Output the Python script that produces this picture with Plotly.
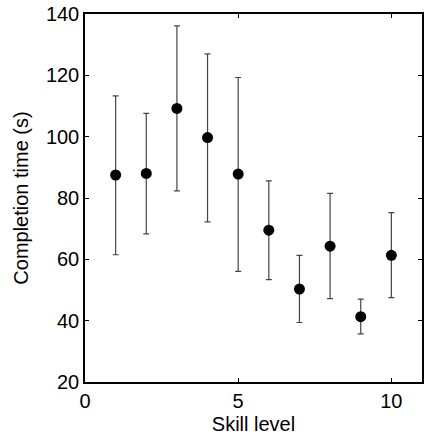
import plotly.graph_objects as go

skill = [1, 2, 3, 4, 5, 6, 7, 8, 9, 10]
mean_time = [87.5, 88.0, 109.2, 99.7, 87.8, 69.5, 50.3, 64.3, 41.3, 61.3]
upper = [113.3, 107.6, 136.1, 127.0, 119.3, 85.6, 61.3, 81.5, 47.0, 75.2]
lower = [61.5, 68.3, 82.3, 72.2, 56.1, 53.4, 39.4, 47.2, 35.7, 47.5]

err_plus = [u - m for u, m in zip(upper, mean_time)]
err_minus = [m - l for m, l in zip(mean_time, lower)]

font = "Liberation Sans, Arial, Helvetica, sans-serif"

fig = go.Figure(go.Scatter(
    x=skill, y=mean_time, mode="markers",
    marker=dict(color="black", size=11),
    error_y=dict(type="data", symmetric=False, array=err_plus, arrayminus=err_minus,
                 color="#444444", thickness=1.2, width=3),
    showlegend=False,
))

axis_common = dict(
    showgrid=False, zeroline=False, showline=True, linecolor="black", linewidth=1.5,
    mirror="ticks", ticks="inside", ticklen=4, tickwidth=1, tickcolor="black",
    tickfont=dict(family=font, size=20, color="black"),
)

fig.update_layout(
    width=427, height=444,
    margin=dict(l=85, r=3, t=12, b=62),
    paper_bgcolor="white", plot_bgcolor="white",
    font=dict(family=font, size=20, color="black"),
    xaxis=dict(range=[0, 11], tickvals=[0, 5, 10],
               title=dict(text="Skill level", standoff=6, font=dict(family=font, size=20)),
               **axis_common),
    yaxis=dict(range=[20, 140], tickvals=[20, 40, 60, 80, 100, 120, 140],
               title=dict(text="Completion time (s)", standoff=12, font=dict(family=font, size=20)),
               **axis_common),
)

fig.write_html("out.html")
